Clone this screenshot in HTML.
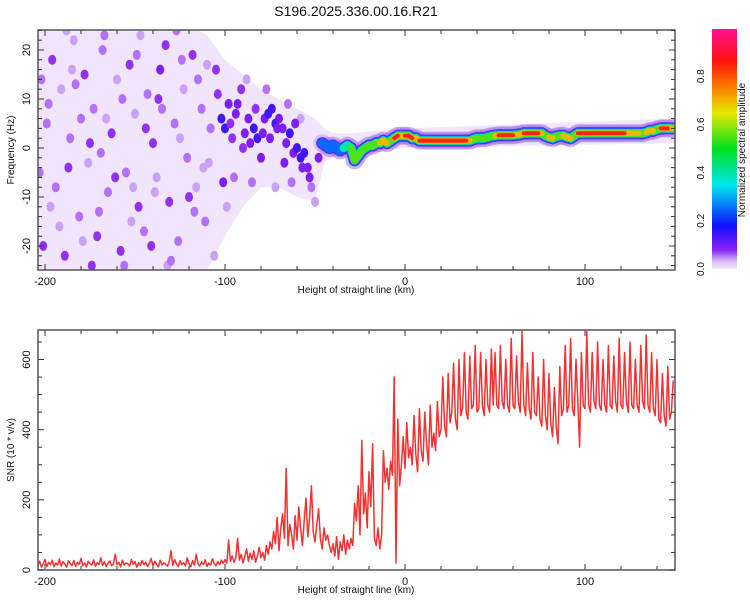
<!DOCTYPE html>
<html><head><meta charset="utf-8">
<style>
html,body{margin:0;padding:0;background:#fff;}
svg text{font-family:"Liberation Sans",sans-serif;fill:#111;}
</style></head>
<body>
<svg id="chart" width="750" height="600" viewBox="0 0 750 600" xmlns="http://www.w3.org/2000/svg">
<defs>
<linearGradient id="cbar" x1="0" y1="1" x2="0" y2="0">
<stop offset="0" stop-color="#f3ebfc"/>
<stop offset="0.03" stop-color="#d9c2f6"/>
<stop offset="0.08" stop-color="#8a20f5"/>
<stop offset="0.18" stop-color="#1010ff"/>
<stop offset="0.35" stop-color="#00e8f0"/>
<stop offset="0.5" stop-color="#00e020"/>
<stop offset="0.65" stop-color="#e8e800"/>
<stop offset="0.77" stop-color="#ff7000"/>
<stop offset="0.87" stop-color="#ff1010"/>
<stop offset="1" stop-color="#ff1090"/>
</linearGradient>
<clipPath id="clipTop"><rect x="38" y="30" width="637" height="240"/></clipPath>
<clipPath id="clipBot"><rect x="38" y="330" width="637" height="240"/></clipPath>
</defs>
<text x="356" y="16" font-size="14" text-anchor="middle">S196.2025.336.00.16.R21</text>
<g id="topPanel"></g>
<g id="botPanel"></g>
<g id="cbPanel"></g>
</svg>
<script>
const NS="http://www.w3.org/2000/svg";
// ---------- data ----------
const snrStart=-204;
const snrValues=[
12,25,8,18,30,10,22,15,28,9,
20,14,31,11,24,17,8,26,19,13,
27,10,22,16,33,12,20,9,25,18,
14,29,11,21,16,35,13,24,10,19,
26,12,17,45,15,22,9,28,14,20,
18,11,30,16,24,8,21,13,27,15,
22,10,19,33,12,25,17,9,28,14,
20,16,11,24,55,13,30,18,10,26,
15,21,12,35,17,9,27,14,45,18,
11,23,16,29,10,20,14,32,18,12,
24,15,28,19,
30,18,85,25,40,22,35,90,28,45,20,38,60,25,48,30,55,22,40,65,35,50,28,70,45,
80,60,110,75,150,55,120,160,90,290,70,130,100,60,155,85,180,120,70,140,205,95,150,240,110,80,130,175,90,60,120,85,100,70,50,
75,40,95,30,80,55,100,45,85,60,90,70,
190,140,240,100,370,160,220,120,280,180,360,
90,70,120,60,100,
340,250,290,230,310,270,550,20,430,240,300,380,
290,420,320,350,300,440,330,280,460,340,310,450,360,300,470,350,390,340,480,380,
400,550,410,380,560,420,450,590,430,400,600,440,460,620,450,430,610,460,470,640,450,460,620,470,440,600,470,450,630,470,
620,470,460,640,480,460,600,470,450,660,
470,460,610,480,450,680,470,440,590,460,
430,620,450,440,550,430,410,600,440,400,
560,420,380,520,410,360,580,440,460,640,
450,470,660,460,440,600,480,350,620,470,
460,680,470,450,620,480,460,650,470,455,
600,470,450,640,470,460,610,480,450,660,
470,460,620,480,450,650,470,460,600,470,
450,640,480,460,670,470,450,620,460,440,
600,430,420,560,440,410,580,430,450,540];
const ridgeStart=-46;
const ridgeFreq=[1,0.5,0,0.5,0,-0.5,0,0.5,0,
-2.5,-1.5,-0.5,0,0.5,0.5,1,1,1.5,1,1.5,2,2.5,2.5,
2.5,2.5,2,2,1.5,1.5,1.5,1.5,1.5,1.5,1.5,1.5,1.5,1.5,1.5,1.5,1.5,1.5,1.5,1.8,2,2,2,2.2,2.4,
2.5,2.6,2.6,2.6,2.6,2.6,2.7,2.8,3,3,3,3,3,3,2.5,2.2,2,2.3,2.5,2.5,2.2,2,2.5,3,3,
3,3,3,3,3,3,3,3,3,3,3,3,3,3,3,3,3,3.2,3.5,3.5,3.8,4,4,4,4,4];
const ridgeAmp=[0.2,0.25,0.3,0.35,0.3,0.3,0.4,0.35,0.5,
0.6,0.5,0.55,0.65,0.6,0.7,0.6,0.75,0.65,0.7,0.6,0.85,0.8,0.7,
0.8,0.9,0.85,0.7,0.8,0.95,0.95,0.95,0.95,0.95,0.95,0.95,0.95,0.95,0.9,0.95,0.9,0.85,0.7,0.6,0.55,0.55,0.6,0.6,0.6,
0.7,0.85,0.95,0.95,0.95,0.9,0.7,0.65,0.9,0.95,0.9,0.95,0.85,0.7,0.55,0.8,0.75,0.6,0.5,0.7,0.85,0.7,0.6,0.85,0.95,
0.95,0.95,0.95,0.95,0.95,0.95,0.9,0.95,0.95,0.95,0.9,0.8,0.7,0.7,0.75,0.7,0.6,0.65,0.8,0.7,0.6,0.8,0.9,0.85,0.7,0.6];
const envX=[-204,-120,-110,-100,-90,-80,-70,-60,-50,-45,-40,-30,0,150];
const envTop=[25,25,23,18,15,12,10,8,6,4,3,3,4,6];
const envBot=[-25,-25,-25,-18,-12,-8,-8,-10,-11,-3,-2,-1,0,1];
const blobX=[-201,-199,-196,-194,-191,-189,-186,-184,-181,-178,-176,-173,-171,-168,-165,-163,-160,-158,-155,-153,-150,-148,-145,-143,-140,-138,-136,-133,-131,-128,-126,-123,-121,-118,-116,-113,-111,-108,-106,-104,-102,-100,-98,-96,-94,-91,-89,-86,-84,-82,-80,-78,-76,-74,-72,-70,-68,-66,-64,-62,-60,-58,-56,-54,-52,-50,-48,-63,-72,-85,-95,-99,-110,-77,-88,-65,-58,-197,-174,-156,-141,-132,-188,-167,-147,-127,-112,-117,-202,-180,
-198,-192,-187,-183,-179,-175,-170,-166,-161,-157,-152,-149,-144,-139,-135,-130,-125,-120,-115,-109,-105,-101,-97,-93,-90,-87,-83,-79,-75,-71,-67,-61,-57,-53,-203,-185,-169,-151,-137,-124];
const blobF=[-20,5,18,-8,12,-22,2,22,-14,15,-3,8,-18,20,-9,3,14,-21,-5,17,7,-12,-17,11,1,-6,16,21,-11,5,-19,12,-2,19,-8,8,-15,4,-22,11,6,4,9,2,7,12,3,1,4,2,-2,6,7,8,5,6,4,1,3,-1,0,-2,-1,-4,-8,-11,-2,-7,-8,-7,-6,-12,17,12,14,9,6,-12,-24,-24,-20,-24,24,23,23,24,-4,-13,14,6,
9,-16,-4,13,-19,1,-13,6,-6,10,-15,19,4,-9,8,-23,2,-10,14,-3,16,-7,5,9,0,6,8,3,2,4,-3,5,-4,-6,-5,16,-1,-8,10,18];
const blobA=[.15,.12,.15,.12,.1,.15,.12,.1,.12,.15,.1,.12,.15,.12,.12,.15,.1,.15,.12,.15,.1,.15,.12,.12,.15,.1,.2,.15,.15,.12,.12,.1,.12,.15,.1,.12,.12,.12,.1,.15,.3,.35,.2,.15,.2,.15,.2,.25,.3,.35,.2,.2,.3,.35,.3,.25,.2,.25,.3,.25,.35,.3,.3,.2,.12,.1,.2,.12,.1,.12,.12,.1,.1,.12,.1,.12,.1,.1,.15,.12,.15,.1,.1,.12,.1,.12,.1,.12,.12,.12,
.12,.1,.15,.12,.1,.15,.12,.1,.15,.12,.1,.12,.15,.1,.12,.12,.1,.15,.12,.1,.15,.2,.15,.2,.15,.2,.15,.2,.2,.25,.2,.2,.25,.2,.12,.1,.12,.1,.15,.12];
const xTicks=[-200,-100,0,100];
const fTicks=[-20,-10,0,10,20];
const snrTicks=[0,200,400,600];
const cbTicks=[0.0,0.2,0.4,0.6,0.8];
// ---------- scales ----------
const X=v=>405+v*1.8;
const FY=f=>148-f*4.9;
const SY=s=>570-s*0.3508;
const CY=a=>269-a*241;
function colorOf(a){
  const st=[[0,[243,235,252]],[0.03,[217,194,246]],[0.08,[138,32,245]],[0.18,[16,16,255]],[0.35,[0,232,240]],[0.5,[0,224,32]],[0.65,[232,232,0]],[0.77,[255,112,0]],[0.87,[255,16,16]],[1,[255,16,144]]];
  for(let i=1;i<st.length;i++){if(a<=st[i][0]){const t=(a-st[i-1][0])/(st[i][0]-st[i-1][0]);const c=st[i-1][1].map((v,k)=>Math.round(v+(st[i][1][k]-v)*t));return `rgb(${c.join(',')})`;}}
  return 'rgb(255,16,144)';
}
function blobColor(a){
  if(a>=0.3) return colorOf(0.14);
  if(a>=0.2) return colorOf(0.09);
  if(a>=0.15) return colorOf(0.075);
  if(a>=0.12) return colorOf(0.055);
  return colorOf(0.04);
}
function mk(tag,attrs,parent){const e=document.createElementNS(NS,tag);for(const k in attrs)e.setAttribute(k,attrs[k]);parent.appendChild(e);return e;}
const topG=document.getElementById('topPanel'), botG=document.getElementById('botPanel'), cbG=document.getElementById('cbPanel');
// ---------- top panel ----------
const tg=mk('g',{'clip-path':'url(#clipTop)'},topG);
let pts=envX.map((x,i)=>X(x)+','+FY(envTop[i])).concat(envX.map((x,i)=>X(x)+','+FY(envBot[i])).reverse());
const env=mk('polygon',{points:pts.join(' '),fill:'#ecdff9',opacity:'0.8'},tg);


const nb=Math.min(blobX.length,blobF.length,blobA.length);
for(let i=0;i<nb;i++){
  const b=mk('ellipse',{cx:X(blobX[i]),cy:FY(blobF[i]),rx:4,ry:5,fill:blobColor(blobA[i])},tg);
  
  
}
const levels=[[0.0,18,0.3],[0.1,12,1],[0.2,10,1],[0.35,8.5,1],[0.5,7,1],[0.65,5.5,1],[0.8,4,1]];
const rg=mk('g',{},tg);


levels.forEach(([lv,w,op])=>{
  for(let i=0;i<ridgeFreq.length-1;i++){
    const a=Math.min(ridgeAmp[i],ridgeAmp[i+1]);
    if(a<lv)continue;
    const x1=X(ridgeStart+2*i),x2=X(ridgeStart+2*i+2);
    mk('line',{x1:x1,y1:FY(ridgeFreq[i]),x2:x2,y2:FY(ridgeFreq[i+1]),stroke:lv===0?'#a070ec':colorOf(lv===0.1?0.1:lv+0.05),'stroke-width':w,'stroke-linecap':'round',opacity:op},rg);
  }
});
function frame(g,y0,name){
  const r=mk('rect',{x:38,y:y0,width:637,height:240,fill:'none',stroke:'#555','stroke-width':1.5},g);
  
  
}
frame(topG,30,'top-plot-frame');
for(let v=-200;v<=150;v+=20){
  const major=v%100===0, L=major?6:4;
  mk('line',{x1:X(v),y1:270,x2:X(v),y2:270-L,stroke:'#333'},topG);
  mk('line',{x1:X(v),y1:30,x2:X(v),y2:30+L,stroke:'#333'},topG);
  mk('line',{x1:X(v),y1:570,x2:X(v),y2:570-L,stroke:'#333'},botG);
  mk('line',{x1:X(v),y1:330,x2:X(v),y2:330+L,stroke:'#333'},botG);
}
for(let f=-24;f<=24;f+=2){
  const L=f%10===0?6:4;
  mk('line',{x1:38,y1:FY(f),x2:38+L,y2:FY(f),stroke:'#333'},topG);
  mk('line',{x1:675,y1:FY(f),x2:675-L,y2:FY(f),stroke:'#333'},topG);
}
xTicks.forEach(v=>{
  const t=mk('text',{x:X(v),y:285,'font-size':11,'text-anchor':'middle'},topG);t.textContent=v;
  
  
  const t2=mk('text',{x:X(v),y:585,'font-size':11,'text-anchor':'middle'},botG);t2.textContent=v;
  
  
});
fTicks.forEach(f=>{
  const t=mk('text',{x:30,y:FY(f),'font-size':11,'text-anchor':'middle',transform:`rotate(-90 30 ${FY(f)})`},topG);t.textContent=f;
  
  
});
let t=mk('text',{x:356,y:293,'font-size':10,'text-anchor':'middle'},topG);t.textContent='Height of straight line (km)';


t=mk('text',{x:14,y:150,'font-size':10,'text-anchor':'middle',transform:'rotate(-90 14 150)'},topG);t.textContent='Frequency (Hz)';


// ---------- bottom panel ----------
const bg=mk('g',{'clip-path':'url(#clipBot)'},botG);
const line=mk('polyline',{points:snrValues.map((s,i)=>X(snrStart+i)+','+SY(s)).join(' '),fill:'none',stroke:'#f03232','stroke-width':1.5,'stroke-linejoin':'round'},bg);


frame(botG,330,'bottom-plot-frame');
for(let s=0;s<=650;s+=50){
  const L=s%200===0?6:4;
  mk('line',{x1:38,y1:SY(s),x2:38+L,y2:SY(s),stroke:'#333'},botG);
  mk('line',{x1:675,y1:SY(s),x2:675-L,y2:SY(s),stroke:'#333'},botG);
}
snrTicks.forEach(s=>{
  const tt=mk('text',{x:30,y:SY(s),'font-size':11,'text-anchor':'middle',transform:`rotate(-90 30 ${SY(s)})`},botG);tt.textContent=s;
  
  
});
t=mk('text',{x:356,y:593,'font-size':10,'text-anchor':'middle'},botG);t.textContent='Height of straight line (km)';


t=mk('text',{x:14,y:450,'font-size':10,'text-anchor':'middle',transform:'rotate(-90 14 450)'},botG);t.textContent='SNR (10 * v/v)';


// ---------- colorbar ----------
const cr=mk('rect',{x:712,y:29,width:25,height:240,fill:'url(#cbar)'},cbG);


cbTicks.forEach(a=>{
  const tt=mk('text',{x:704,y:CY(a),'font-size':10,'text-anchor':'middle',transform:`rotate(-90 704 ${CY(a)})`},cbG);tt.textContent=a.toFixed(1);
  
  
});
t=mk('text',{x:745,y:150,'font-size':10,'text-anchor':'middle',transform:'rotate(-90 745 150)'},cbG);t.textContent='Normalized spectral amplitude';


</script>
</body></html>
